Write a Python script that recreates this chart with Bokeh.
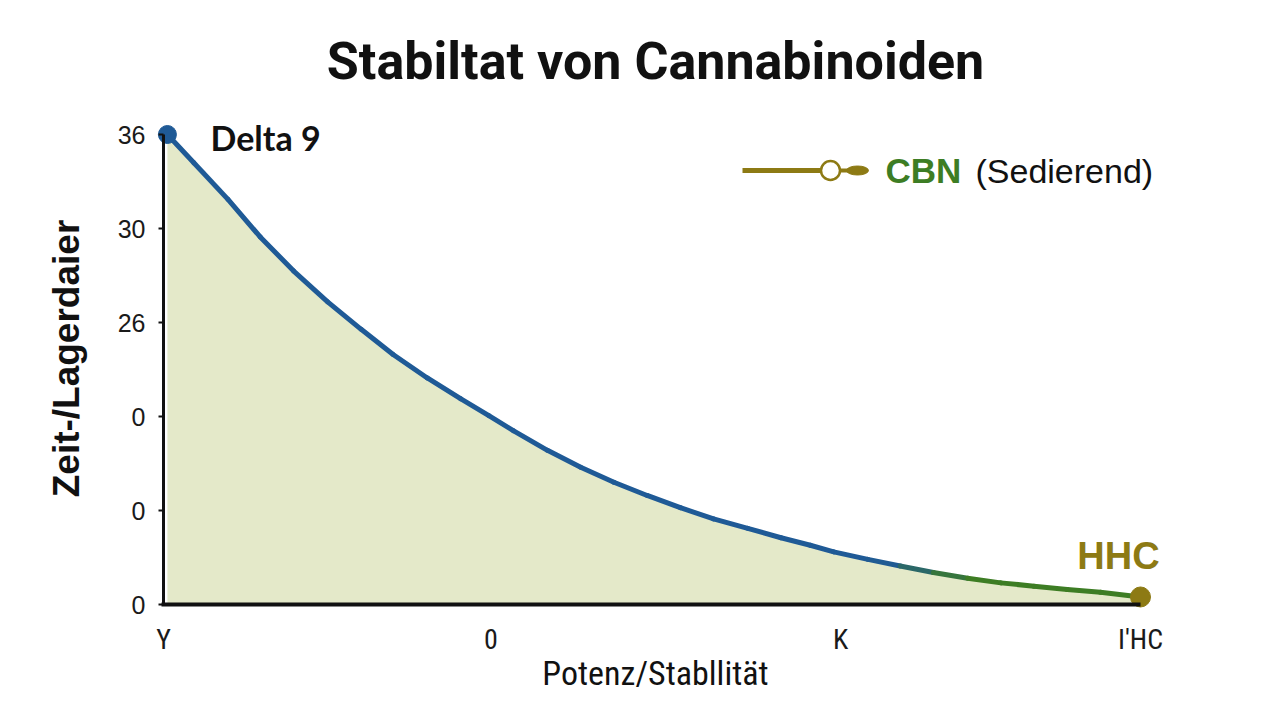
from bokeh.plotting import figure
from bokeh.models import Range1d, LinearAxis, FixedTicker
from bokeh.core.properties import value
from bokeh.embed import file_html
from bokeh.resources import INLINE

# ---------------- data ----------------
title_text = "Stabiltat von Cannabinoiden"
x_axis_title = "Potenz/Stabllität"
y_axis_title = "Zeit-/Lagerdaier"

x_tick_pos = [0, 33.5, 69.3, 100]
x_tick_labels = ["Y", "0", "K", "I'HC"]
y_tick_pos = [0, 1, 2, 3, 4, 5]
y_tick_labels = ["0", "0", "0", "26", "30", "36"]

curve_x = [0.4, 3.1, 6.6, 9.9, 13.3, 16.8, 20.2, 23.5, 27.0, 30.4, 33.3, 35.8,
           39.3, 42.7, 46.1, 49.5, 52.9, 56.3, 59.8, 63.2, 66.2, 68.6, 72.1,
           75.4, 78.8, 82.3, 85.7, 89.1, 92.5, 95.9, 100.0]
curve_y = [5.0, 4.70, 4.31, 3.91, 3.55, 3.22, 2.93, 2.66, 2.41, 2.19, 2.01, 1.85,
           1.64, 1.46, 1.30, 1.16, 1.03, 0.91, 0.81, 0.71, 0.63, 0.56, 0.48,
           0.41, 0.34, 0.28, 0.23, 0.195, 0.16, 0.13, 0.08]

start_label = "Delta 9"
end_label = "HHC"
legend_name = "CBN"
legend_note = "(Sedierend)"

# ---------------- layout (pixels) ----------------
W, H = 1280, 720
FL, FR, FT, FB = 150, 1160, 96, 620   # frame edges
AX_X, AX_Y = 163, 604                 # pixel position of the axes
PX_PER_X = 9.77
PX_PER_Y = 94.0
x0 = -(AX_X - FL) / PX_PER_X
x1 = x0 + (FR - FL) / PX_PER_X
y0 = -(FB - AX_Y) / PX_PER_Y
y1 = y0 + (FB - FT) / PX_PER_Y


def dx(px):
    return (px - AX_X) / PX_PER_X


def dy(py):
    return (AX_Y - py) / PX_PER_Y


BLUE = "#1f5a96"
GREEN = "#3d7d24"
OLIVE = "#8d7a14"
FILL = "#e4e9c9"
INK = "#111111"

p = figure(width=W, height=H, output_backend="svg", toolbar_location=None,
           title=title_text,
           x_range=Range1d(x0, x1), y_range=Range1d(y0, y1),
           x_axis_type=None, y_axis_type=None,
           min_border_left=FL, min_border_bottom=H - FB,
           min_border_right=W - FR, min_border_top=FT)
p.outline_line_color = None
p.xgrid.visible = False
p.ygrid.visible = False
p.background_fill_color = "white"
p.border_fill_color = "white"

p.title.align = "center"
p.title.offset = -5
p.title.text_font = "Roboto"
p.title.text_font_style = "bold"
p.title.text_font_size = "52px"
p.title.text_color = INK

# area
p.varea(x=curve_x, y1=[0] * len(curve_x), y2=curve_y, fill_color=FILL, fill_alpha=1.0)


# curve as segments (colour blends from blue to green near the end)
def blend(c1, c2, t):
    a = [int(c1[i:i + 2], 16) for i in (1, 3, 5)]
    b = [int(c2[i:i + 2], 16) for i in (1, 3, 5)]
    return "#%02x%02x%02x" % tuple(int(round(a[k] + (b[k] - a[k]) * t)) for k in range(3))


xs, ys, cols = [], [], []
for i in range(len(curve_x) - 1):
    xm = (curve_x[i] + curve_x[i + 1]) / 2
    t = min(1.0, max(0.0, (xm - 73.5) / 9.0))
    xs.append([curve_x[i], curve_x[i + 1]])
    ys.append([curve_y[i], curve_y[i + 1]])
    cols.append(blend(BLUE, GREEN, t))
p.multi_line(xs=xs, ys=ys, line_color=cols, line_width=5, line_cap="round", line_join="round")

# ---- label axes (at frame edges, lines hidden) ----
ylab = LinearAxis()
ylab.ticker = FixedTicker(ticks=y_tick_pos)
ylab.major_label_overrides = {t: l for t, l in zip(y_tick_pos, y_tick_labels)}
ylab.axis_line_color = None
ylab.major_tick_line_color = None
ylab.minor_tick_line_color = None
ylab.major_tick_out = 0
ylab.major_tick_in = 0
ylab.major_label_standoff = 5
ylab.major_label_text_font = "Liberation Sans"
ylab.major_label_text_font_size = "25px"
ylab.major_label_text_color = "#1a1a1a"
ylab.axis_label = y_axis_title
ylab.axis_label_text_font = "Liberation Sans"
ylab.axis_label_text_font_style = "bold"
ylab.axis_label_text_font_size = "37px"
ylab.axis_label_text_color = INK
ylab.axis_label_standoff = 28
p.add_layout(ylab, "left")

xlab = LinearAxis()
xlab.ticker = FixedTicker(ticks=x_tick_pos)
xlab.major_label_overrides = {t: l for t, l in zip(x_tick_pos, x_tick_labels)}
xlab.axis_line_color = None
xlab.major_tick_line_color = None
xlab.minor_tick_line_color = None
xlab.major_tick_out = 0
xlab.major_tick_in = 0
xlab.major_label_standoff = 2
xlab.major_label_text_font = "Liberation Sans Narrow, Roboto Condensed, Roboto"
xlab.major_label_text_font_size = "28px"
xlab.major_label_text_color = "#1a1a1a"
xlab.axis_label = x_axis_title
xlab.axis_label_text_font = "Liberation Sans Narrow, Roboto Condensed, Roboto"
xlab.axis_label_text_font_style = "normal"
xlab.axis_label_text_font_size = "34px"
xlab.axis_label_text_color = INK
xlab.axis_label_standoff = -6
p.add_layout(xlab, "below")

# ---- axis lines + ticks at the data origin ----
yaxis = LinearAxis(fixed_location=0, bounds=(0, 5))
yaxis.ticker = FixedTicker(ticks=y_tick_pos)
yaxis.major_label_text_font_size = "10px"
yaxis.major_label_text_color = None
yaxis.minor_tick_line_color = None
yaxis.major_tick_out = 5
yaxis.major_tick_in = 0
yaxis.major_tick_line_width = 2
yaxis.major_tick_line_color = INK
yaxis.axis_line_width = 3
yaxis.axis_line_color = INK
p.add_layout(yaxis, "left")

xaxis = LinearAxis(fixed_location=0, bounds=(-0.2, 100))
xaxis.ticker = FixedTicker(ticks=x_tick_pos)
xaxis.major_label_text_font_size = "10px"
xaxis.major_label_text_color = None
xaxis.minor_tick_line_color = None
xaxis.major_tick_out = 0
xaxis.major_tick_in = 0
xaxis.axis_line_width = 4
xaxis.axis_line_color = INK
p.add_layout(xaxis, "below")

# end points
p.scatter(x=[curve_x[0]], y=[curve_y[0]], size=18, fill_color=BLUE, line_color=BLUE)
p.scatter(x=[curve_x[-1]], y=[curve_y[-1]], size=20, fill_color=OLIVE, line_color=OLIVE)

# labels
p.text(x=[dx(210)], y=[dy(137)], text=[start_label], text_font=value("Lato"),
       text_font_style="bold", text_font_size="34px", text_color=INK,
       text_baseline="middle", text_align="left")
p.text(x=[dx(1118)], y=[dy(555)], text=[end_label], text_font=value("Liberation Sans"),
       text_font_style="bold", text_font_size="38px", text_color=OLIVE,
       text_baseline="middle", text_align="center")

# legend (CBN)
LY = dy(170)
p.line(x=[dx(742), dx(822)], y=[LY, LY], line_color=OLIVE, line_width=5)
p.line(x=[dx(838), dx(856)], y=[LY, LY], line_color=OLIVE, line_width=4)
p.ellipse(x=[dx(857)], y=[LY], width=dx(869) - dx(847), height=9 / PX_PER_Y,
          fill_color=OLIVE, line_color=OLIVE)
p.scatter(x=[dx(830)], y=[LY], size=19, fill_color="white", line_color=OLIVE, line_width=2.5)
p.text(x=[dx(885)], y=[LY], text=[legend_name], text_font=value("Liberation Sans"),
       text_font_style="bold", text_font_size="35px", text_color=GREEN,
       text_baseline="middle", text_align="left")
p.text(x=[dx(975)], y=[LY], text=[legend_note], text_font=value("Liberation Sans"),
       text_font_size="34px", text_color=INK,
       text_baseline="middle", text_align="left")

open("out.html", "w").write(file_html(p, INLINE))
